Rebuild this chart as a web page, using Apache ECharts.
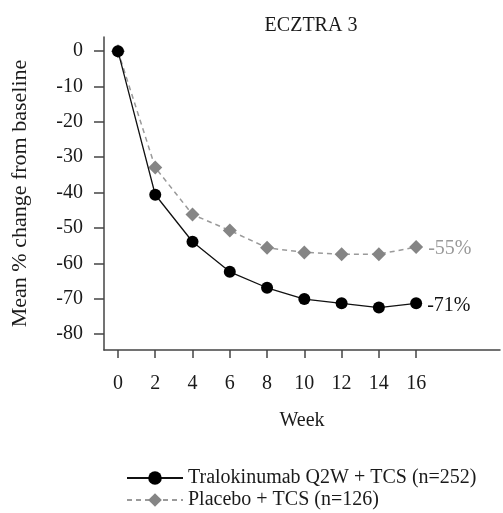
<!DOCTYPE html>
<html>
<head>
<meta charset="utf-8">
<script src="https://cdn.jsdelivr.net/npm/echarts@6/dist/echarts.min.js"></script>
<style>
  html, body { margin: 0; padding: 0; background: #fff; }
  #chart { width: 503px; height: 513px; }
</style>
</head>
<body>
<div id="chart"></div>
<script>
// 数据
var weeks = [0, 2, 4, 6, 8, 10, 12, 14, 16];
var tralokinumab = [0, -40.6, -53.9, -62.4, -66.9, -70.1, -71.3, -72.5, -71.3];
var placebo = [0, -32.9, -46.2, -50.7, -55.6, -56.9, -57.4, -57.4, -55.4];
var yTicks = [0, -10, -20, -30, -40, -50, -60, -70, -80];
var seriesNames = ['Tralokinumab Q2W + TCS (n=252)', 'Placebo + TCS (n=126)'];
var endLabels = ['-71%', '-55%'];

var FONT = '"Liberation Serif", "Times New Roman", serif';

function pairs(values, endText) {
	return weeks.map(function (w, i) {
		var item = { value: [w, values[i]] };
		// 最后一个点显示百分比
		if (i === weeks.length - 1) {
			item.label = { show: true, formatter: endText };
		}
		return item;
	});
}

var option = {
	animation: false,
	title: {
		text: 'ECZTRA 3',
		left: 306,
		top: 11,
		textAlign: 'center',
		textStyle: { fontFamily: FONT, fontSize: 20, fontWeight: 'normal', color: '#1a1a1a' }
	},
	grid: { left: 104, top: 37, right: 3, bottom: 163 },
	legend: {
		orient: 'vertical',
		left: 126,
		top: 468,
		padding: 0,
		itemWidth: 56,
		itemHeight: 17,
		itemGap: 2,
		textStyle: { fontFamily: FONT, fontSize: 20, color: '#1a1a1a' },
		data: seriesNames
	},
	xAxis: {
		type: 'value',
		min: -0.75,
		max: 20.5,
		name: 'Week',
		nameLocation: 'middle',
		nameGap: 61,
		nameTextStyle: { fontFamily: FONT, fontSize: 20, color: '#1a1a1a' },
		splitLine: { show: false },
		axisLine: { onZero: false, lineStyle: { color: '#444', width: 1.5 } },
		axisTick: { customValues: weeks, length: 8, lineStyle: { color: '#444', width: 1.5 } },
		axisLabel: { customValues: weeks, margin: 24, fontFamily: FONT, fontSize: 20, color: '#1a1a1a' }
	},
	yAxis: {
		type: 'value',
		min: -84.5,
		max: 4,
		name: 'Mean % change from baseline',
		nameLocation: 'middle',
		nameGap: 73,
		nameRotate: 90,
		nameTextStyle: { fontFamily: FONT, fontSize: 22, color: '#1a1a1a' },
		splitLine: { show: false },
		axisLine: { show: true, onZero: false, lineStyle: { color: '#444', width: 1.5 } },
		axisTick: { show: true, customValues: yTicks, length: 10, lineStyle: { color: '#444', width: 1.5 } },
		axisLabel: { customValues: yTicks, margin: 21, fontFamily: FONT, fontSize: 20, color: '#1a1a1a' }
	},
	series: [
		{
			name: seriesNames[0],
			type: 'line',
			z: 3,
			symbol: 'circle',
			symbolSize: 12,
			itemStyle: { color: '#000' },
			lineStyle: { color: '#111', width: 1.3 },
			label: { position: 'right', distance: 5, offset: [0, 2], fontFamily: FONT, fontSize: 20, color: '#111' },
			data: pairs(tralokinumab, endLabels[0])
		},
		{
			name: seriesNames[1],
			type: 'line',
			z: 2,
			symbol: 'diamond',
			symbolSize: 14,
			itemStyle: { color: '#858585' },
			lineStyle: { color: '#9a9a9a', width: 1.5, type: [5, 4] },
			label: { position: 'right', distance: 5, offset: [0, 2], fontFamily: FONT, fontSize: 20, color: '#9a9a9a' },
			data: pairs(placebo, endLabels[1])
		}
	]
};

var myChart = echarts.init(document.getElementById('chart'));
myChart.setOption(option);
</script>
</body>
</html>
